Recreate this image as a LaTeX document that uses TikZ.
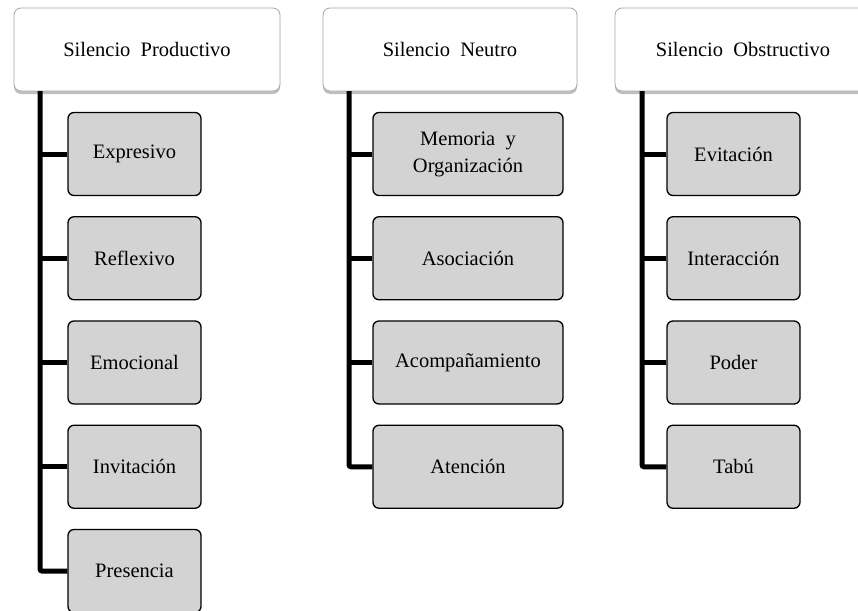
\documentclass[tikz,border=0pt]{standalone}
\usepackage{fontspec}
\setmainfont{Liberation Serif}
\usepackage{tikz}
\usetikzlibrary{shadows}
\definecolor{boxgray}{HTML}{D3D3D3}
\definecolor{framegray}{HTML}{A6A6A6}
\tikzset{
	header/.style={draw=framegray, line width=0.8pt, fill=white, rounded corners=7pt,
		minimum height=83pt, inner sep=2pt, font=\fontsize{20.5}{25}\selectfont,
		drop shadow={shadow xshift=0pt, shadow yshift=-3pt, opacity=.5, fill=gray}},
	leaf/.style={draw=black, line width=1.3pt, fill=boxgray, rounded corners=6pt,
		minimum height=83pt, inner sep=2pt, align=center, font=\fontsize{20.5}{27}\selectfont},
	trunk/.style={line width=5pt, rounded corners=2pt},
}
\begin{document}
\begin{tikzpicture}[x=1pt,y=-1pt]
	\useasboundingbox (0,0) rectangle (858,610);
	% headers
	\node[header, minimum width=266pt] (h1) at (147,49.5) {Silencio~ Productivo};
	\node[header, minimum width=254pt] (h2) at (450,49.5) {Silencio~ Neutro};
	\node[header, minimum width=256pt] (h3) at (743,49.5) {Silencio~ Obstructivo};
	\coordinate (t1) at (40,91);
	\coordinate (t2) at (349,91);
	\coordinate (t3) at (642,91);
	% productivo
	\node[leaf, minimum width=133pt] (p1) at (134.5,154) {Expresivo};
	\node[leaf, minimum width=133pt] (p2) at (134.5,258.25) {Reflexivo};
	\node[leaf, minimum width=133pt] (p3) at (134.5,362.5) {Emocional};
	\node[leaf, minimum width=133pt] (p4) at (134.5,466.75) {Invitación};
	\node[leaf, minimum width=133pt] (p5) at (134.5,571) {Presencia};
	% neutro
	\node[leaf, minimum width=190pt] (n1) at (468,154) {Memoria~ y\\Organización};
	\node[leaf, minimum width=190pt] (n2) at (468,258.25) {Asociación};
	\node[leaf, minimum width=190pt] (n3) at (468,362.5) {Acompañamiento};
	\node[leaf, minimum width=190pt] (n4) at (468,466.75) {Atención};
	% obstructivo
	\node[leaf, minimum width=133pt] (o1) at (733.5,154) {Evitación};
	\node[leaf, minimum width=133pt] (o2) at (733.5,258.25) {Interacción};
	\node[leaf, minimum width=133pt] (o3) at (733.5,362.5) {Poder};
	\node[leaf, minimum width=133pt] (o4) at (733.5,466.75) {Tabú};
	% trunks
	\draw[trunk] (t1) |- (p5.west);
	\draw[trunk] (t1 |- p1.west) -- (p1.west);
	\draw[trunk] (t1 |- p2.west) -- (p2.west);
	\draw[trunk] (t1 |- p3.west) -- (p3.west);
	\draw[trunk] (t1 |- p4.west) -- (p4.west);
	\draw[trunk] (t2) |- (n4.west);
	\draw[trunk] (t2 |- n1.west) -- (n1.west);
	\draw[trunk] (t2 |- n2.west) -- (n2.west);
	\draw[trunk] (t2 |- n3.west) -- (n3.west);
	\draw[trunk] (t3) |- (o4.west);
	\draw[trunk] (t3 |- o1.west) -- (o1.west);
	\draw[trunk] (t3 |- o2.west) -- (o2.west);
	\draw[trunk] (t3 |- o3.west) -- (o3.west);
\end{tikzpicture}
\end{document}
